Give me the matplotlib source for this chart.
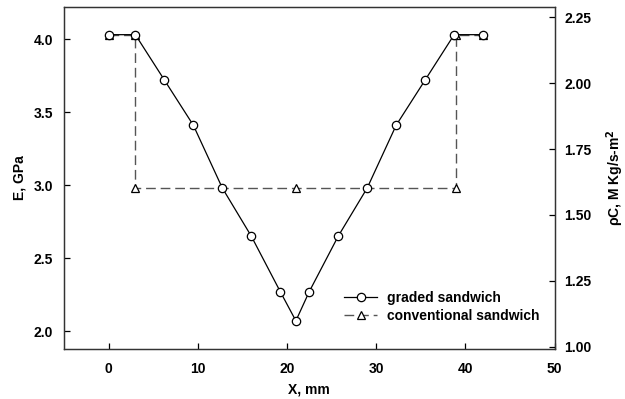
import matplotlib
matplotlib.use("Agg")
import matplotlib.pyplot as plt

plt.rcParams['font.family'] = ['Liberation Sans', 'DejaVu Sans']
plt.rcParams['font.weight'] = 'bold'
plt.rcParams['font.size'] = 10

# graded sandwich: modulus profile through the thickness
x_graded = [0, 3, 6.25, 9.5, 12.75, 16, 19.25, 21, 22.5, 25.75, 29, 32.25, 35.5, 38.75, 42]
E_graded = [4.03, 4.03, 3.72, 3.41, 2.98, 2.65, 2.27, 2.07, 2.27, 2.65, 2.98, 3.41, 3.72, 4.03, 4.03]

# conventional sandwich: step profile
x_conv = [0, 3, 3, 21, 39, 39, 42]
E_conv = [4.03, 4.03, 2.98, 2.98, 2.98, 4.03, 4.03]

x_ticks = [0, 10, 20, 30, 40, 50]
E_ticks = [2.0, 2.5, 3.0, 3.5, 4.0]
rhoC_ticks = [1.00, 1.25, 1.50, 1.75, 2.00, 2.25]

fig = plt.figure(figsize=(6.25, 3.99), dpi=100)
ax = fig.add_axes([0.1024, 0.1253, 0.7848, 0.8577])

ax.plot(x_graded, E_graded, color='black', lw=0.9, marker='o', ms=6,
        mfc='white', mec='black', mew=0.9, label='graded sandwich', zorder=3)
ax.plot(x_conv, E_conv, color='#555555', lw=1.0, ls=(0, (7, 3.5)), marker='^', ms=6,
        mfc='white', mec='black', mew=0.9, label='conventional sandwich', zorder=2)

ax.set_xlim(-5, 50)
ax.set_ylim(1.877, 4.221)
ax.set_xticks(x_ticks)
ax.set_yticks(E_ticks)
ax.set_yticklabels([f'{v:.1f}' for v in E_ticks])
ax.tick_params(direction='in', length=4, width=0.9, labelsize=10)
ax.tick_params(axis='x', pad=9)
ax.tick_params(axis='y', pad=8)
ax.set_xlabel('X, mm', fontweight='bold', fontsize=10, labelpad=5)
ax.set_ylabel('E, GPa', fontweight='bold', fontsize=10, labelpad=5)

ax2 = ax.twinx()
ax2.set_ylim(0.991, 2.29)
ax2.set_yticks(rhoC_ticks)
ax2.set_yticklabels([f'{v:.2f}' for v in rhoC_ticks])
ax2.tick_params(direction='in', length=4, width=0.9, labelsize=10, pad=7)
ax2.set_ylabel('ρC, M Kg/s-m$^\\mathbf{2}$', fontweight='bold', fontsize=10, labelpad=9)

for a in (ax, ax2):
    for s in a.spines.values():
        s.set_linewidth(0.9)
        s.set_color('#333333')

ax.legend(loc='lower right', bbox_to_anchor=(0.995, 0.04), frameon=False,
          fontsize=10, handlelength=2.4, handletextpad=0.7, labelspacing=0.25)

fig.savefig('out.png', dpi=100)
